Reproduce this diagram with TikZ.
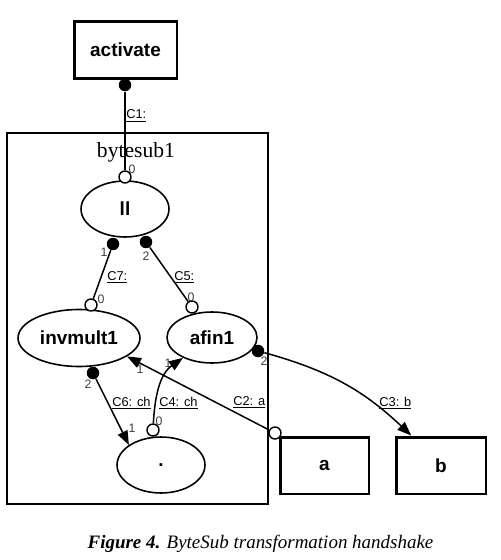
\documentclass[tikz,border=0pt]{standalone}
\usepackage{fontspec}
\setmainfont{Liberation Serif}
\setsansfont{Liberation Sans}
\definecolor{portgray}{RGB}{60,60,60}
\usetikzlibrary{arrows.meta,calc,shapes.geometric}

\begin{document}
\begin{tikzpicture}[x=0.02cm,y=-0.02cm,
  box/.style={draw,line width=1.7pt,inner sep=0pt,minimum height=1.14cm,
    font=\sffamily\bfseries\fontsize{10.8}{13}\selectfont},
  proc/.style={draw,ellipse,line width=0.9pt,inner sep=0pt,
    font=\sffamily\bfseries\fontsize{10.8}{13}\selectfont},
  dotport/.style={circle,fill,inner sep=0pt,minimum size=0.25cm},
  openport/.style={circle,draw,fill=white,line width=0.8pt,inner sep=0pt,minimum size=0.24cm},
  conn/.style={line width=0.85pt},
  arr/.style={conn,-{Triangle[length=8pt,width=6pt]}},
  lbl/.style={font=\sffamily\fontsize{7.3}{8}\selectfont,inner sep=0pt,anchor=base west},
  pnum/.style={font=\sffamily\fontsize{7}{8}\selectfont,text=portgray,inner sep=0pt}
]
  \useasboundingbox (0,0) rectangle (500,560);
  % Container
  \node[draw,line width=0.9pt,minimum width=5.22cm,minimum height=7.42cm] (bytesub) at (137.5,318.5) {};
  \node[font=\fontsize{12.3}{14}\selectfont,anchor=base,inner sep=0pt] (title) at (136,158) {bytesub1};

  % Outer boxes
  \node[box,minimum width=2.06cm] (activate) at (125.5,50) {activate};
  \node[box,minimum width=1.78cm] (a) at (324.5,465.5) {a};
  \node[box,minimum width=1.80cm] (b) at (441,465.5) {b};

  % Processes
  \node[proc,minimum width=1.76cm,minimum height=1.12cm] (ll) at (125,209) {ll};
  \node[proc,minimum width=2.44cm,minimum height=1.14cm] (inv) at (79,338) {invmult1};
  \node[proc,minimum width=1.80cm,minimum height=1.02cm] (afin) at (212,337.5) {afin1};
  \node[proc,minimum width=1.76cm,minimum height=1.12cm] (dot) at (161,465) {.};

  % Ports
  \node[dotport] (actp) at (125,85) {};
  \node[openport] (llp0) at (125,177) {};
  \node[dotport] (llp1) at (113,244) {};
  \node[dotport] (llp2) at (146,242) {};
  \node[openport] (invp0) at (91,305) {};
  \node[openport] (afp0) at (192,307) {};
  \node[dotport] (invp2) at (93,373) {};
  \node[dotport] (afp2) at (258,351) {};
  \node[openport] (dotp0) at (153,430) {};
  \node[openport] (ap) at (275,433) {};

  % Port numbers
  \node[pnum] (n1) at (132,169) {0};
  \node[pnum] (n2) at (104,252) {1};
  \node[pnum] (n3) at (146,256) {2};
  \node[pnum] (n4) at (101,299) {0};
  \node[pnum] (n5) at (191,297) {0};
  \node[pnum] (n6) at (88,384) {2};
  \node[pnum] (n7) at (140,369) {1};
  \node[pnum] (n8) at (168,363) {1};
  \node[pnum] (n9) at (264,361) {2};
  \node[pnum] (n10) at (159,421) {0};
  \node[pnum] (n11) at (132,428) {1};

  % Connectors
  \draw[conn] (actp) -- (llp0);
  \draw[conn] (llp1) -- (invp0);
  \draw[conn] (llp2) -- (afp0);
  \draw[arr] (invp2) -- (dot.148);
  \draw[arr] (dotp0) to[out=87,in=215] (afin.215);
  \draw[arr] (ap) -- (inv.-21);
  \draw[arr] (afp2) to[bend left=14] ($(b.north west)!0.18!(b.north east)$);

  % Connector labels
  \node[lbl] (c1) at (126,119) {\underline{C1:}};
  \node[lbl] (c7) at (107,280) {\underline{C7:}};
  \node[lbl] (c5) at (174,280) {\underline{C5:}};
  \node[lbl] (c6) at (112,406) {\underline{C6: ch}};
  \node[lbl] (c4) at (159,406) {\underline{C4: ch}};
  \node[lbl] (c2) at (233,405) {\underline{C2: a}};
  \node[lbl] (c3) at (379,406) {\underline{C3: b}};

  % Caption
  \node[font=\fontsize{10.8}{13}\selectfont,inner sep=0pt] (cap) at (260.5,544)
    {\textbf{\textit{Figure 4.}} \textit{ByteSub transformation handshake}};
\end{tikzpicture}
\end{document}
